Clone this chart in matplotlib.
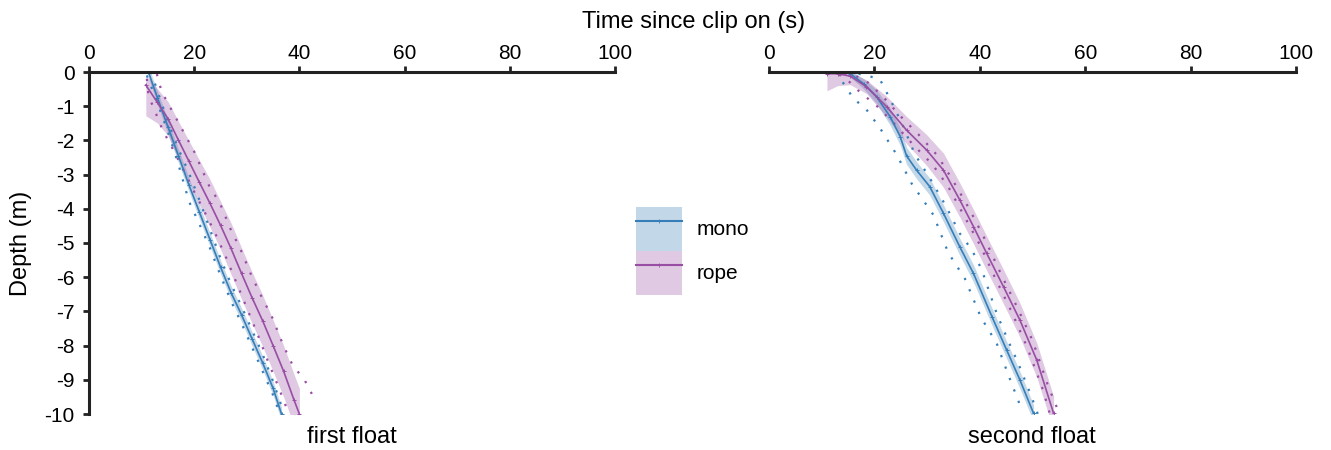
import matplotlib
matplotlib.use("Agg")
import matplotlib.pyplot as plt
from matplotlib.patches import Patch
from matplotlib.lines import Line2D

plt.rcParams['font.family'] = ['Liberation Sans', 'DejaVu Sans']

# ---------------- data ----------------
series_names = ["mono", "rope"]
panel_titles = ["first float", "second float"]
x_ticks = [0, 20, 40, 60, 80, 100]
y_ticks = [0, -1, -2, -3, -4, -5, -6, -7, -8, -9, -10]

# first float - mean curves (time s, depth m) with band half widths
f1_mono_t = [11.3, 13, 15, 17, 19, 21, 23, 25, 27, 29, 31, 33, 35, 36.6]
f1_mono_d = [0, -0.75, -1.6, -2.45, -3.3, -4.1, -4.9, -5.7, -6.45, -7.1, -7.8, -8.5, -9.25, -10.0]
f1_mono_hw = [0.15, 0.2, 0.2, 0.2, 0.2, 0.2, 0.2, 0.2, 0.2, 0.2, 0.2, 0.2, 0.2, 0.2]

f1_rope_t = [10.8, 13, 15, 17, 19, 21, 23, 25, 27, 29, 31, 33, 35, 37, 39, 40.0]
f1_rope_d = [-0.38, -0.89, -1.36, -1.99, -2.61, -3.23, -3.84, -4.48, -5.16, -5.89, -6.6, -7.27, -8.0, -8.75, -9.6, -10.0]
f1_rope_up = [0.3, 0.4, 0.5, 0.55, 0.6, 0.65, 0.7, 0.7, 0.75, 0.75, 0.75, 0.75, 0.75, 0.75, 0.75, 0.75]
f1_rope_lo = [0.9, 0.6, 0.5, 0.55, 0.6, 0.65, 0.7, 0.7, 0.75, 0.75, 0.75, 0.75, 0.75, 0.75, 0.75, 0.75]

# first float - individual drops (dotted)
f1_mono_a_t = [11.0, 13, 15, 17, 19, 21, 23, 25, 27, 29, 31, 33, 35, 36.3]
f1_mono_a_d = [-0.1, -0.9, -1.75, -2.7, -3.78, -4.45, -5.15, -5.95, -6.7, -7.35, -8.05, -8.75, -9.45, -10.0]
f1_mono_b_t = [11.8, 13, 15, 17, 19, 21, 23, 25, 27, 29, 31, 33, 35, 37.0]
f1_mono_b_d = [0.0, -0.55, -1.45, -2.25, -2.95, -3.75, -4.6, -5.45, -6.2, -6.85, -7.55, -8.25, -9.05, -9.95]
f1_rope_a_t = [12.9, 13.8, 16.9, 20.0, 22.9, 24.9, 26.9, 28.9, 30.9, 32.9, 34.9, 36.9, 38.8, 40.9, 43.0]
f1_rope_a_d = [-0.06, -0.57, -1.45, -2.33, -3.35, -3.84, -4.59, -5.22, -5.96, -6.6, -7.2, -7.98, -8.6, -8.98, -9.6]
f1_rope_b_t = [11.0, 11.3, 12.3, 14, 16, 18, 20, 22, 24, 26, 28, 30, 32, 34, 36, 38]
f1_rope_b_d = [-0.2, -0.7, -1.05, -1.7, -2.27, -2.88, -3.5, -4.1, -4.72, -5.4, -6.15, -6.9, -7.65, -8.45, -9.2, -10.0]

# second float - mean curves
f2_mono_t = [15.4, 18, 20.4, 23.0, 24.9, 26.1, 28.0, 30.5, 33.1, 36.2, 38.8, 42.3, 45.1, 47.6, 50.2]
f2_mono_d = [-0.05, -0.35, -0.72, -1.31, -1.89, -2.45, -2.87, -3.35, -4.13, -5.11, -5.89, -7.15, -8.13, -9.0, -9.98]
f2_mono_hw = [0.1, 0.15, 0.2, 0.25, 0.25, 0.25, 0.25, 0.25, 0.25, 0.25, 0.25, 0.25, 0.25, 0.25, 0.25]

f2_rope_t = [11.0, 13, 15.4, 18.5, 22.3, 26.1, 29.9, 33.1, 36.2, 38.8, 41.3, 44.5, 47.6, 50.8, 54.0]
f2_rope_d = [-0.05, -0.05, -0.12, -0.43, -1.01, -1.7, -2.28, -2.87, -3.74, -4.52, -5.3, -6.28, -7.25, -8.42, -9.98]
f2_rope_up = [0.05, 0.05, 0.12, 0.2, 0.3, 0.4, 0.45, 0.5, 0.5, 0.5, 0.5, 0.5, 0.5, 0.5, 0.5]
f2_rope_lo = [0.5, 0.35, 0.25, 0.2, 0.3, 0.4, 0.45, 0.5, 0.5, 0.5, 0.5, 0.5, 0.5, 0.5, 0.5]

# second float - individual drops (dotted)
f2_mono_a_t = [14.0, 16.0, 18.5, 21.1, 24.2, 27.1, 31.2, 34.0, 37.2, 40.2, 43.2, 45.3, 48.1]
f2_mono_a_d = [-0.3, -0.77, -1.1, -1.65, -2.41, -3.27, -4.18, -5.28, -6.05, -7.17, -7.93, -8.81, -9.93]
f2_mono_b_t = [17.0, 21.0, 23.0, 25.5, 27.7, 30.5, 33.5, 36.2, 38.5, 40.4, 43.2, 45.5, 47.3, 49.8, 51.0]
f2_mono_b_d = [-0.05, -0.2, -0.8, -1.6, -2.41, -3.1, -3.9, -4.72, -5.2, -5.79, -7.06, -7.9, -8.52, -9.49, -10.0]
f2_rope_a_t = [11.0, 14.0, 17.0, 20.5, 24.0, 27.5, 31.0, 34.0, 37.0, 40.0, 43.0, 46.0, 49.0, 52.0, 53.3]
f2_rope_a_d = [-0.05, -0.1, -0.55, -1.0, -1.55, -2.15, -2.7, -3.35, -4.2, -5.05, -6.05, -7.0, -8.05, -9.3, -10.0]
f2_rope_b_t = [12.0, 15.0, 18.0, 21.5, 25.0, 28.5, 32.0, 35.0, 38.0, 41.0, 44.0, 47.0, 50.0, 53.0, 55.0]
f2_rope_b_d = [-0.02, -0.05, -0.2, -0.7, -1.3, -1.85, -2.45, -3.2, -4.0, -4.9, -5.9, -6.85, -7.85, -9.2, -9.95]

# ---------------- style ----------------
C_MONO = "#377eb8"
C_ROPE = "#984ea3"
BAND_ALPHA = 0.3
W, H = 1331, 450

fig = plt.figure(figsize=(W / 100, H / 100), dpi=100)
ax1 = fig.add_axes([89 / W, 1 - 414 / H, 526 / W, 342 / H])
ax2 = fig.add_axes([769 / W, 1 - 414 / H, 527 / W, 342 / H])


def style_axis(ax, show_y):
    ax.set_xlim(0, 100)
    ax.set_ylim(-10, 0)
    ax.xaxis.tick_top()
    ax.set_xticks(x_ticks)
    ax.set_xticklabels([str(v) for v in x_ticks])
    for s in ["bottom", "right"]:
        ax.spines[s].set_visible(False)
    ax.spines["top"].set_linewidth(2.2)
    ax.spines["top"].set_color("#222222")
    ax.tick_params(axis="x", which="both", direction="out", length=4.3, width=2.0,
                   color="#222222", labelsize=15, pad=2.5, top=True, bottom=False)
    if show_y:
        ax.spines["left"].set_linewidth(2.2)
        ax.spines["left"].set_color("#222222")
        ax.set_yticks(y_ticks)
        ax.set_yticklabels([str(v) for v in y_ticks])
        ax.tick_params(axis="y", direction="out", length=4.3, width=2.0,
                       color="#222222", labelsize=15, pad=6)
    else:
        ax.spines["left"].set_visible(False)
        ax.set_yticks([])
    ax.set_facecolor("none")


def draw_mean(ax, t, d, up, lo, color):
    lower = [di - l for di, l in zip(d, lo)]
    upper = [di + u for di, u in zip(d, up)]
    ax.fill_between(t, lower, upper, color=color, alpha=BAND_ALPHA, lw=0)
    ax.plot(t, d, color=color, lw=1.2, marker="+", ms=3.5, mew=0.7)


def draw_trial(ax, t, d, color):
    ax.plot(t, d, color=color, lw=1.6, linestyle=(0, (1, 4.5)))


# first float
draw_trial(ax1, f1_mono_a_t, f1_mono_a_d, C_MONO)
draw_trial(ax1, f1_mono_b_t, f1_mono_b_d, C_MONO)
draw_trial(ax1, f1_rope_a_t, f1_rope_a_d, C_ROPE)
draw_trial(ax1, f1_rope_b_t, f1_rope_b_d, C_ROPE)
draw_mean(ax1, f1_mono_t, f1_mono_d, f1_mono_hw, f1_mono_hw, C_MONO)
draw_mean(ax1, f1_rope_t, f1_rope_d, f1_rope_up, f1_rope_lo, C_ROPE)

# second float
draw_trial(ax2, f2_mono_a_t, f2_mono_a_d, C_MONO)
draw_trial(ax2, f2_mono_b_t, f2_mono_b_d, C_MONO)
draw_trial(ax2, f2_rope_a_t, f2_rope_a_d, C_ROPE)
draw_trial(ax2, f2_rope_b_t, f2_rope_b_d, C_ROPE)
draw_mean(ax2, f2_mono_t, f2_mono_d, f2_mono_hw, f2_mono_hw, C_MONO)
draw_mean(ax2, f2_rope_t, f2_rope_d, f2_rope_up, f2_rope_lo, C_ROPE)

style_axis(ax1, True)
style_axis(ax2, False)

# texts
fig.text(694 / W, 1 - 28 / H, "Time since clip on (s)", ha="center", va="baseline", fontsize=17)
fig.text(21 / W, 1 - 243 / H, "Depth (m)", rotation=90, ha="center", va="center", fontsize=17)
fig.text(352 / W, 1 - 443 / H, panel_titles[0], ha="center", va="baseline", fontsize=17)
fig.text(1032 / W, 1 - 443 / H, panel_titles[1], ha="center", va="baseline", fontsize=17)

# legend
handles = [
    (Patch(facecolor=C_MONO, alpha=BAND_ALPHA, edgecolor="none"),
     Line2D([], [], color=C_MONO, lw=1.5, marker="+", ms=3, mew=0.6)),
    (Patch(facecolor=C_ROPE, alpha=BAND_ALPHA, edgecolor="none"),
     Line2D([], [], color=C_ROPE, lw=1.5, marker="+", ms=3, mew=0.6)),
]
fig.legend(handles, series_names, loc="center left",
           bbox_to_anchor=(636 / W, 1 - 251 / H), frameon=False, fontsize=15,
           borderpad=0, borderaxespad=0, handlelength=2.2, handleheight=2.9,
           labelspacing=0, handletextpad=0.72)

fig.savefig("out.png", dpi=100)
